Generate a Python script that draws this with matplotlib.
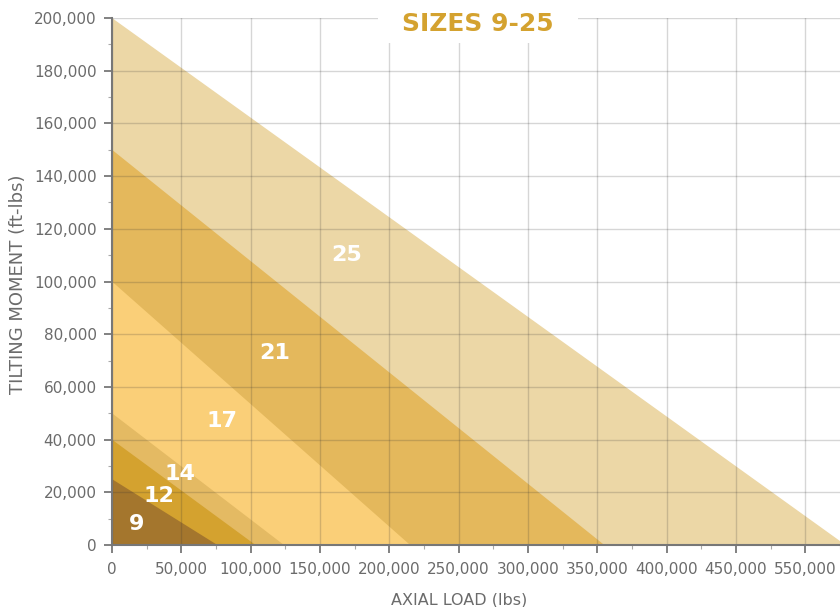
import matplotlib
matplotlib.use("Agg")
import matplotlib.pyplot as plt
from matplotlib.patches import Rectangle

# sizes, max tilting moment (ft-lbs) at zero axial load, max axial load (lbs) at zero moment
sizes = ["25", "21", "17", "14", "12", "9"]
moment_max = [200000, 150000, 100000, 50000, 40000, 25000]
axial_max = [529000, 355000, 215000, 124000, 103500, 76000]
colors = ["#ECD7A6", "#E4B85C", "#FACF78", "#E4BA63", "#D4A22F", "#A4762D"]
# label anchor (axial, moment)
label_pos = [(169000, 110000), (117000, 73000), (79000, 47000), (49000, 27000),
             (34000, 18500), (18000, 8000)]

xticks = [0, 50000, 100000, 150000, 200000, 250000, 300000, 350000, 400000, 450000, 500000]
xticklabels = ["0", "50,000", "100,000", "150,000", "200,000", "250,000", "300,000",
               "350,000", "400,000", "450,000", "550,000"]
yticks = list(range(0, 200001, 20000))

grey = "#6b6b6b"
plt.rcParams['font.family'] = ['DejaVu Sans']

fig = plt.figure(figsize=(8.4, 6.07), dpi=100)
ax = fig.add_axes([112 / 840, 1 - 545 / 607, 1 - 112 / 840, (545 - 18) / 607])

for i, s in enumerate(sizes):
    ax.fill([0, 0, axial_max[i]], [0, moment_max[i], 0], color=colors[i], lw=0, zorder=1)
    ax.text(label_pos[i][0], label_pos[i][1], s, color="white", fontsize=16,
            fontweight="bold", ha="center", va="center", zorder=4)

ax.set_xlim(0, 520500)
ax.set_ylim(0, 200000)
ax.set_xticks(xticks)
ax.set_xticklabels(xticklabels)
ax.set_yticks(yticks)
ax.set_yticklabels([f"{v:,}" for v in yticks])
ax.set_xticks([v + 25000 for v in xticks], minor=True)
ax.set_yticks([v + 10000 for v in yticks[:-1]], minor=True)

ax.grid(True, which="major", color="#333333", alpha=0.2, lw=1.0, zorder=2)
ax.set_axisbelow(False)
for sp in ["top", "right"]:
    ax.spines[sp].set_visible(False)
for sp in ["left", "bottom"]:
    ax.spines[sp].set_color("#777777")
    ax.spines[sp].set_linewidth(1.5)
    ax.spines[sp].set_zorder(5)

ax.tick_params(which="major", length=6, width=1.3, color="#777777", labelcolor=grey,
               labelsize=11)
ax.tick_params(which="minor", length=3, width=0.8, color="#aaaaaa")
ax.tick_params(axis="y", pad=5)
ax.tick_params(axis="x", pad=6)

fig.text(459 / 840, 1 - 600 / 607, "AXIAL LOAD (lbs)", color=grey, fontsize=11.5,
         ha="center", va="center")
fig.text(18 / 840, 1 - 284 / 607, "TILTING MOMENT (ft-lbs)", color=grey, fontsize=13,
         ha="center", va="center", rotation=90)

fig.patches.append(Rectangle((378 / 840, 1 - 43 / 607), 200 / 840, 43 / 607,
                             transform=fig.transFigure, facecolor="white",
                             edgecolor="none", zorder=10))
fig.text(478 / 840, 1 - 24 / 607, "SIZES 9-25", color="#D4A22F", fontsize=18,
         fontweight="bold", ha="center", va="center", zorder=11)

fig.savefig("out.png", dpi=100)
